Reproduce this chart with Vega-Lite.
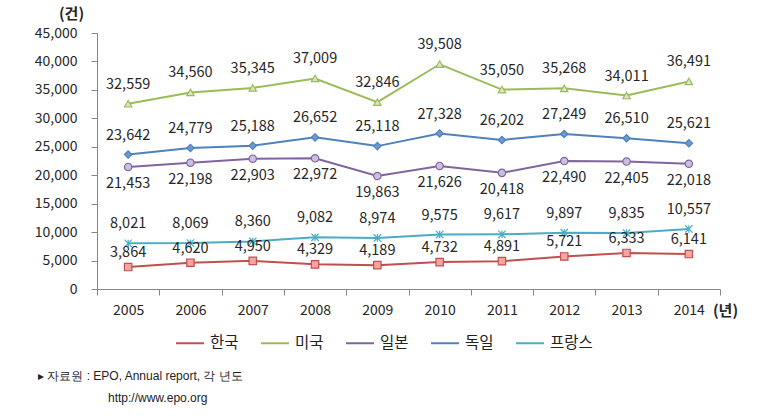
{
  "$schema": "https://vega.github.io/schema/vega-lite/v6.json",
  "width": 623,
  "height": 256,
  "autosize": {"type": "none"},
  "padding": {"left": 97, "top": 33, "right": 50, "bottom": 130},
  "background": "white",
  "config": {
    "font": "Noto Sans CJK KR",
    "view": {"stroke": null},
    "axis": {"domainColor": "#868686", "tickColor": "#868686", "labelColor": "#262626", "grid": false, "domainWidth": 1, "tickWidth": 1}
  },
  "title": {
    "text": "▸ 자료원 : EPO, Annual report, 각 년도",
    "subtitle": "\u200b\u00a0\u00a0\u00a0\u00a0\u00a0\u00a0\u00a0\u00a0\u00a0\u00a0\u00a0\u00a0\u00a0\u00a0\u00a0\u00a0\u00a0\u00a0\u00a0\u00a0\u00a0http://www.epo.org",
    "orient": "bottom",
    "anchor": "start",
    "frame": "group",
    "dx": -59,
    "offset": 19,
    "font": "Liberation Sans",
    "fontSize": 12,
    "fontWeight": "normal",
    "color": "#222222",
    "subtitleFont": "Liberation Sans",
    "subtitleFontSize": 12,
    "subtitleColor": "#222222",
    "subtitlePadding": 10
  },
  "data": {
    "values": [
      {"year": "2005", "country": "한국", "value": 3864},
      {"year": "2006", "country": "한국", "value": 4620},
      {"year": "2007", "country": "한국", "value": 4950},
      {"year": "2008", "country": "한국", "value": 4329},
      {"year": "2009", "country": "한국", "value": 4189},
      {"year": "2010", "country": "한국", "value": 4732},
      {"year": "2011", "country": "한국", "value": 4891},
      {"year": "2012", "country": "한국", "value": 5721},
      {"year": "2013", "country": "한국", "value": 6333},
      {"year": "2014", "country": "한국", "value": 6141},
      {"year": "2005", "country": "미국", "value": 32559},
      {"year": "2006", "country": "미국", "value": 34560},
      {"year": "2007", "country": "미국", "value": 35345},
      {"year": "2008", "country": "미국", "value": 37009},
      {"year": "2009", "country": "미국", "value": 32846},
      {"year": "2010", "country": "미국", "value": 39508},
      {"year": "2011", "country": "미국", "value": 35050},
      {"year": "2012", "country": "미국", "value": 35268},
      {"year": "2013", "country": "미국", "value": 34011},
      {"year": "2014", "country": "미국", "value": 36491},
      {"year": "2005", "country": "일본", "value": 21453},
      {"year": "2006", "country": "일본", "value": 22198},
      {"year": "2007", "country": "일본", "value": 22903},
      {"year": "2008", "country": "일본", "value": 22972},
      {"year": "2009", "country": "일본", "value": 19863},
      {"year": "2010", "country": "일본", "value": 21626},
      {"year": "2011", "country": "일본", "value": 20418},
      {"year": "2012", "country": "일본", "value": 22490},
      {"year": "2013", "country": "일본", "value": 22405},
      {"year": "2014", "country": "일본", "value": 22018},
      {"year": "2005", "country": "독일", "value": 23642},
      {"year": "2006", "country": "독일", "value": 24779},
      {"year": "2007", "country": "독일", "value": 25188},
      {"year": "2008", "country": "독일", "value": 26652},
      {"year": "2009", "country": "독일", "value": 25118},
      {"year": "2010", "country": "독일", "value": 27328},
      {"year": "2011", "country": "독일", "value": 26202},
      {"year": "2012", "country": "독일", "value": 27249},
      {"year": "2013", "country": "독일", "value": 26510},
      {"year": "2014", "country": "독일", "value": 25621},
      {"year": "2005", "country": "프랑스", "value": 8021},
      {"year": "2006", "country": "프랑스", "value": 8069},
      {"year": "2007", "country": "프랑스", "value": 8360},
      {"year": "2008", "country": "프랑스", "value": 9082},
      {"year": "2009", "country": "프랑스", "value": 8974},
      {"year": "2010", "country": "프랑스", "value": 9575},
      {"year": "2011", "country": "프랑스", "value": 9617},
      {"year": "2012", "country": "프랑스", "value": 9897},
      {"year": "2013", "country": "프랑스", "value": 9835},
      {"year": "2014", "country": "프랑스", "value": 10557}
    ]
  },
  "encoding": {
    "x": {
      "field": "year",
      "type": "ordinal",
      "scale": {"type": "band", "paddingInner": 0, "paddingOuter": 0},
      "axis": {
        "title": "(년)",
        "titleAngle": 0,
        "titleX": 628,
        "titleY": 21,
        "titleAlign": "center",
        "titleBaseline": "middle",
        "titleFontSize": 15,
        "titleFontWeight": "bold",
        "titleColor": "#262626",
        "labelAngle": 0,
        "labelFontSize": 14,
        "labelPadding": 8,
        "tickSize": 6,
        "tickBand": "extent"
      }
    },
    "y": {
      "field": "value",
      "type": "quantitative",
      "scale": {"domain": [0, 45000], "nice": false},
      "axis": {
        "values": [0, 5000, 10000, 15000, 20000, 25000, 30000, 35000, 40000, 45000],
        "format": ",d",
        "title": "(건)",
        "titleAngle": 0,
        "titleX": -26,
        "titleY": -20,
        "titleAlign": "center",
        "titleBaseline": "middle",
        "titleFontSize": 15,
        "titleFontWeight": "bold",
        "titleColor": "#262626",
        "labelFontSize": 14,
        "labelPadding": 14,
        "tickSize": 6
      }
    }
  },
  "layer": [
    {
      "mark": {"type": "line", "strokeWidth": 2},
      "encoding": {
        "color": {
          "field": "country",
          "type": "nominal",
          "scale": {"domain": ["한국", "미국", "일본", "독일", "프랑스"], "range": ["#c0504d", "#9bbb59", "#8064a2", "#4f81bd", "#4bacc6"]},
          "legend": {
            "orient": "none", "legendX": 78, "legendY": 295, "direction": "horizontal", "title": null,
            "symbolType": "stroke", "symbolSize": 784, "symbolStrokeWidth": 2,
            "labelFontSize": 15.5, "labelColor": "#222222", "labelOffset": 5, "columnPadding": 18, "padding": 0
          }
        }
      }
    },
    {
      "mark": {"type": "point", "size": 55, "strokeWidth": 1.2, "opacity": 1},
      "encoding": {
        "shape": {
          "field": "country", "type": "nominal", "sort": ["한국", "미국", "일본", "독일", "프랑스"],
          "scale": {"range": ["square", "triangle-up", "circle", "diamond", "M-1,-1L1,1M-1,1L1,-1M0,-1L0,1"]},
          "legend": null
        },
        "fill": {
          "field": "country", "type": "nominal", "sort": ["한국", "미국", "일본", "독일", "프랑스"],
          "scale": {"range": ["#f2a6a4", "#dbe8bd", "#cbbfdc", "#6f98cf", "transparent"]},
          "legend": null
        },
        "stroke": {
          "field": "country", "type": "nominal", "sort": ["한국", "미국", "일본", "독일", "프랑스"],
          "scale": {"range": ["#c0504d", "#9bbb59", "#8064a2", "#4f81bd", "#4bacc6"]},
          "legend": null
        }
      }
    },
    {
      "transform": [{"filter": "datum.country === '미국' || datum.country === '독일' || datum.country === '프랑스'"}],
      "mark": {"type": "text", "dy": -19, "fontSize": 14.5, "fill": "#262626", "baseline": "middle"},
      "encoding": {"text": {"field": "value", "type": "quantitative", "format": ","}}
    },
    {
      "transform": [{"filter": "datum.country === '한국'"}],
      "mark": {"type": "text", "dy": -14, "fontSize": 14.5, "fill": "#262626", "baseline": "middle"},
      "encoding": {"text": {"field": "value", "type": "quantitative", "format": ","}}
    },
    {
      "transform": [{"filter": "datum.country === '일본'"}],
      "mark": {"type": "text", "dy": 17, "fontSize": 14.5, "fill": "#262626", "baseline": "middle"},
      "encoding": {"text": {"field": "value", "type": "quantitative", "format": ","}}
    }
  ]
}
